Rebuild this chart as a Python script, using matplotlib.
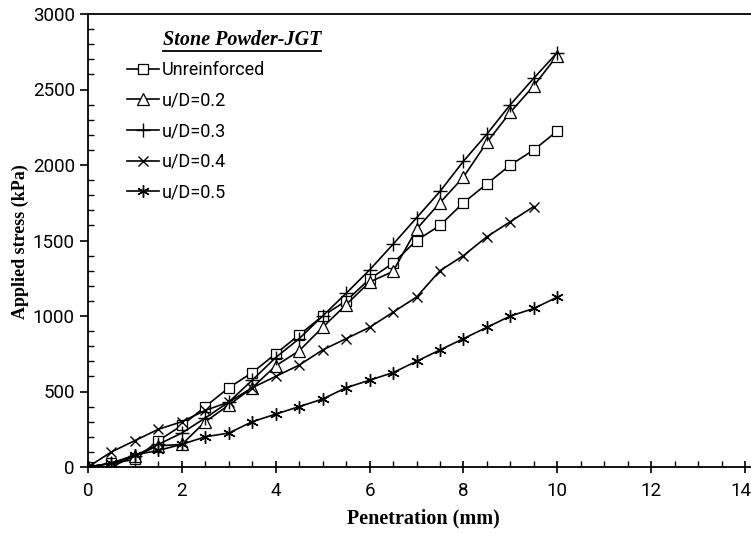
import matplotlib
matplotlib.use('Agg')
import matplotlib.pyplot as plt
from matplotlib.ticker import MultipleLocator
from matplotlib.lines import Line2D
import matplotlib.transforms as mtransforms

# ---- data ----
penetration = [0, 0.5, 1, 1.5, 2, 2.5, 3, 3.5, 4, 4.5, 5, 5.5, 6, 6.5, 7,
               7.5, 8, 8.5, 9, 9.5, 10]
unreinforced = [0, 25, 50, 175, 275, 400, 525, 625, 750, 875, 1000, 1100,
                1245, 1350, 1500, 1600, 1750, 1875, 2000, 2100, 2225]
ud_02 = [0, 0, 75, 140, 150, 300, 410, 525, 670, 770, 925, 1075, 1225,
         1295, 1575, 1750, 1920, 2150, 2350, 2525, 2725]
ud_03 = [0, 25, 75, 150, 225, 325, 430, 575, 725, 850, 1000, 1150, 1305,
         1475, 1650, 1825, 2025, 2205, 2400, 2575, 2745]
ud_04 = [0, 100, 175, 250, 300, 375, 430, 525, 600, 675, 775, 850, 925,
         1025, 1125, 1300, 1400, 1525, 1625, 1725]
ud_05 = [0, 25, 80, 110, 150, 200, 225, 300, 350, 400, 450, 525, 575, 625,
         700, 775, 850, 925, 1000, 1050, 1125]

labels = ["Unreinforced", "u/D=0.2", "u/D=0.3", "u/D=0.4", "u/D=0.5"]
legend_title = "Stone Powder-JGT"
x_label = "Penetration (mm)"
y_label = "Applied stress (kPa)"
x_ticks = [0, 2, 4, 6, 8, 10, 12, 14]
y_ticks = [0, 500, 1000, 1500, 2000, 2500, 3000]

W, H = 751, 533
fig = plt.figure(figsize=(W / 100, H / 100), dpi=100)

def fx(px):
    return px / W

def fy(py):
    return 1 - py / H

tick_font = ['Roboto', 'DejaVu Sans']
serif = ['Liberation Serif', 'DejaVu Serif']

pxmm = 46.93
x0, x1 = 88.0, 88.0 + 15 * pxmm
ytop, ybot = 14, 467
ax = fig.add_axes([fx(x0), fy(ybot), fx(x1) - fx(x0), fy(ytop) - fy(ybot)])

lw = 1.2
common = dict(color='black', lw=lw, mec='black', mfc='white')
ax.plot(penetration, unreinforced, marker='s', ms=7.5, mew=0.9, label=labels[0], **common)
ax.plot(penetration, ud_02, marker='^', ms=8.5, mew=0.9, label=labels[1], **common)
ax.plot(penetration, ud_03, marker='+', ms=10, mew=1.0, label=labels[2], **common)
ax.plot(penetration[:len(ud_04)], ud_04, marker='x', ms=7.5, mew=1.0, label=labels[3], **common)
ax.plot(penetration, ud_05, marker=(6, 2, 0), ms=9, mew=1.0, label=labels[4], **common)

ax.set_xlim(0, 15)
ax.set_ylim(0, 3000)
ax.set_xticks(x_ticks)
ax.set_yticks(y_ticks)
ax.xaxis.set_minor_locator(MultipleLocator(0.5))
ax.yaxis.set_minor_locator(MultipleLocator(100))
ax.tick_params(axis='x', which='major', direction='inout', length=9, width=1.2, pad=6)
ax.tick_params(axis='x', which='minor', direction='in', length=4, width=1.0)
ax.tick_params(axis='y', which='major', direction='out', length=5.5, width=1.2, pad=4)
ax.tick_params(axis='y', which='minor', direction='in', length=4.3, width=1.0)
for lab in ax.get_xticklabels() + ax.get_yticklabels():
    lab.set_family(tick_font)
    lab.set_fontsize(13.5)
# keep the last x tick label inside the cropped figure
last = ax.get_xticklabels()[-1]
last.set_transform(last.get_transform() +
                   mtransforms.ScaledTranslation(-4 / 100, 0, fig.dpi_scale_trans))

for side in ['left', 'bottom', 'top']:
    ax.spines[side].set_linewidth(1.3)
ax.spines['right'].set_visible(False)

ax.set_xlabel(x_label, family=serif, fontweight='bold', fontsize=14.5)
ax.xaxis.set_label_coords((423.5 - x0) / (x1 - x0), -(518 - ybot) / (ybot - ytop) )
ax.xaxis.label.set_va('center')
ax.set_ylabel(y_label, family=serif, fontweight='bold', fontsize=13)
ax.yaxis.set_label_coords(-(x0 - 20) / (x1 - x0), (ybot - 242) / (ybot - ytop))
ax.yaxis.label.set_va('center')

leg = ax.legend(loc='upper left', bbox_to_anchor=(fx(127), fy(61)),
                bbox_transform=fig.transFigure, frameon=False,
                prop={'family': ['Roboto', 'DejaVu Sans'], 'size': 13},
                handlelength=1.75, handletextpad=0.2, labelspacing=0.7,
                borderpad=0, borderaxespad=0)

t = fig.text(fx(163), fy(40), legend_title, family=serif, fontweight='bold',
             fontstyle='italic', fontsize=14.5, va='center', ha='left')
fig.canvas.draw()
bb = t.get_window_extent()
fig.add_artist(Line2D([bb.x0 / W, bb.x1 / W], [fy(50.5), fy(50.5)],
                      transform=fig.transFigure, color='black', lw=1.3))

fig.savefig('out.png', dpi=100)
